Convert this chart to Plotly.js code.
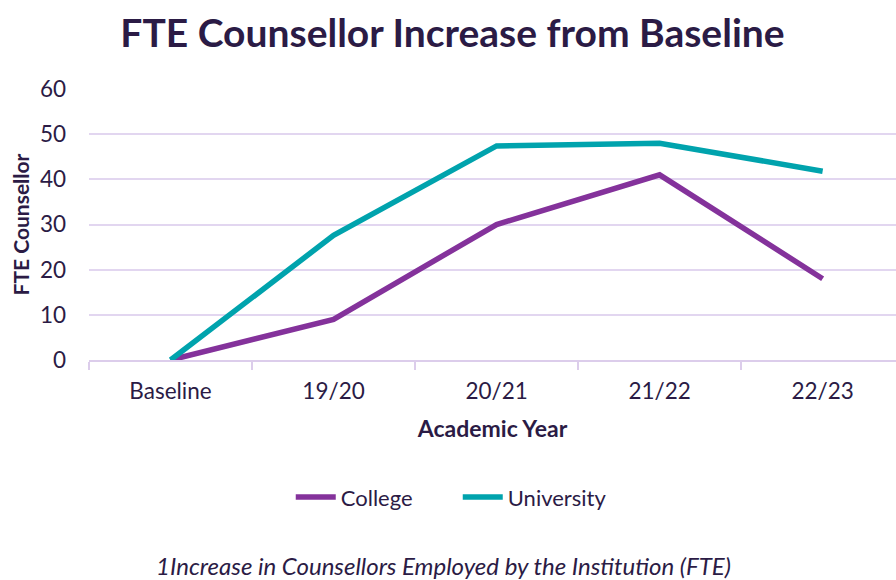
<!DOCTYPE html>
<html><head><meta charset="utf-8">
<script src="https://cdn.plot.ly/plotly-3.0.1.min.js"></script>
<style>html,body{margin:0;padding:0;background:#fff}#chart{width:896px;height:580px}</style>
</head><body><div id="chart"></div>
<script>
const categories = ["Baseline", "19/20", "20/21", "21/22", "22/23"];
const college = [0, 9, 30, 41, 18];
const university = [0, 27.6, 47.4, 48, 41.8];
const yTicks = [0, 10, 20, 30, 40, 50, 60];

const txt = "#2B1B45";
const font = "Lato, 'Open Sans', sans-serif";
const traces = [
  {x: categories, y: college, name: "College", type: "scatter", mode: "lines",
   line: {color: "#84329B", width: 5.5}},
  {x: categories, y: university, name: "University", type: "scatter", mode: "lines",
   line: {color: "#00A3AD", width: 5.5}}
];
const layout = {
  width: 896, height: 580,
  margin: {l: 89, r: 0, t: 89, b: 220},
  paper_bgcolor: "#fff", plot_bgcolor: "#fff",
  font: {family: font, color: txt, size: 22},
  title: {text: "<b>FTE Counsellor Increase from Baseline</b>", font: {size: 39, color: txt, family: font},
          x: 0.505, xanchor: "center", y: 0.943, yanchor: "middle"},
  xaxis: {type: "category", range: [-0.5, 4.45], showgrid: false, zeroline: false,
          showline: true, linecolor: "#DCCDEB", linewidth: 2,
          ticks: "outside", tickson: "boundaries", ticklen: 8, tickcolor: "#DCCDEB", tickwidth: 2,
          tickfont: {size: 22.5, color: txt}, ticklabelstandoff: 10,
          title: {text: "<b>Academic Year</b>", font: {size: 23, color: txt}, standoff: 18}},
  yaxis: {range: [0, 60], tickvals: yTicks, showgrid: true, gridcolor: "#E2D6F0", gridwidth: 2,
          zeroline: false, showline: false, ticks: "", tickfont: {size: 22.5, color: txt},
          ticklabelstandoff: 22,
          title: {text: "<b>FTE Counsellor</b>", font: {size: 21, color: txt}, standoff: 4}},
  showlegend: true,
  legend: {orientation: "h", x: 0.25, xanchor: "left", y: -0.506, yanchor: "middle",
           font: {size: 22, color: txt}, itemwidth: 40, entrywidth: 112, tracegroupgap: 0},
  annotations: [{text: "<i>1Increase in Counsellors Employed by the Institution (FTE)</i>",
    xref: "paper", yref: "paper", x: 0.439, y: -0.757, xanchor: "center", yanchor: "middle",
    showarrow: false, font: {size: 24, color: txt}}]
};
Plotly.newPlot("chart", traces, layout, {displayModeBar: false, staticPlot: true});
</script></body></html>
